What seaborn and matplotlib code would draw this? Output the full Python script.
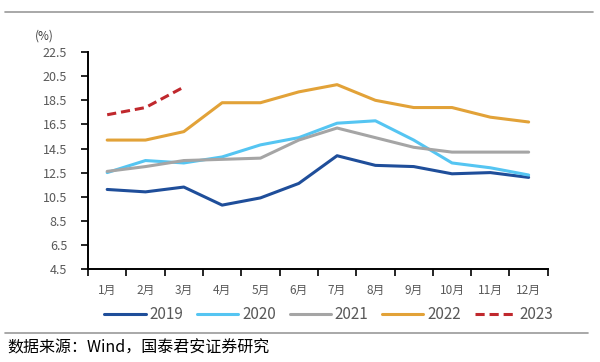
import numpy as np
import pandas as pd
import seaborn as sns
import matplotlib.pyplot as plt
from matplotlib.lines import Line2D

# data (%)
months = ['1月', '2月', '3月', '4月', '5月', '6月', '7月', '8月', '9月', '10月', '11月', '12月']
y2019 = [11.1, 10.9, 11.3, 9.8, 10.4, 11.6, 13.9, 13.1, 13.0, 12.4, 12.5, 12.1]
y2020 = [12.5, 13.5, 13.3, 13.8, 14.8, 15.4, 16.6, 16.8, 15.2, 13.3, 12.9, 12.3]
y2021 = [12.6, 13.0, 13.5, 13.6, 13.7, 15.2, 16.2, 15.4, 14.6, 14.2, 14.2, 14.2]
y2022 = [15.2, 15.2, 15.9, 18.3, 18.3, 19.2, 19.8, 18.5, 17.9, 17.9, 17.1, 16.7]
y2023 = [17.3, 17.9, 19.6]

yticks = np.arange(4.5, 22.6, 2)

sns.set_theme(style='white')
plt.rcParams['font.family'] = ['Noto Sans CJK SC', 'DejaVu Sans']

fig = plt.figure(figsize=(6, 3.62), dpi=100)
ax = fig.add_axes([0.1467, 0.257, 0.7663, 0.599])

series = [('2019', y2019, '#1f4e9a', '-'),
          ('2020', y2020, '#55c5f2', '-'),
          ('2021', y2021, '#a5a5a5', '-'),
          ('2022', y2022, '#e2a238', '-'),
          ('2023', y2023, '#c0282d', '--')]

x = np.arange(len(months))
for name, vals, color, ls in series:
    sns.lineplot(x=x[:len(vals)], y=vals, ax=ax, color=color, linewidth=2.2,
                 label=name, legend=False)
    if ls == '--':
        ax.lines[-1].set_dashes((3, 1.6))

ax.set_xlim(-0.5, 11.5)
ax.set_ylim(4.5, 22.5)
ax.set_yticks(yticks)
ax.set_yticklabels([f'{v:.1f}' for v in yticks])
ax.set_xticks(np.arange(-0.5, 12, 1))
ax.set_xticklabels([])
ax.set_xticks(x, minor=True)
ax.set_xticklabels(months, minor=True)

for s in ['top', 'right']:
    ax.spines[s].set_visible(False)
for s in ['left', 'bottom']:
    ax.spines[s].set_color('black')
    ax.spines[s].set_linewidth(1.4)

ax.tick_params(axis='y', which='major', direction='out', length=5, width=1.2,
               color='black', left=True, labelsize=9, labelcolor='#595959', pad=10)
ax.tick_params(axis='x', which='major', direction='out', length=5, width=1.2,
               color='black', bottom=True)
ax.tick_params(axis='x', which='minor', length=0, labelsize=8.5,
               labelcolor='#595959', pad=11)

ax.text(-0.095, 1.075, '(%)', transform=ax.transAxes, fontsize=8.5,
        color='#404040', ha='center', va='center')

fig.legend(handles=ax.lines, labels=[s[0] for s in series], loc='center',
           bbox_to_anchor=(0.548, 0.13), ncol=5, frameon=False, fontsize=11,
           handlelength=2.7, handletextpad=0.25, columnspacing=0.9,
           labelcolor='#595959')

fig.add_artist(Line2D([0.008, 0.988], [0.967, 0.967], color='#999999', lw=1.2))
fig.add_artist(Line2D([0.008, 0.98], [0.080, 0.080], color='#999999', lw=1.2))
fig.text(0.012, 0.04, '数据来源：Wind，国泰君安证券研究', fontsize=11.5,
         color='black', ha='left', va='center')

fig.savefig('out.png', dpi=100)
